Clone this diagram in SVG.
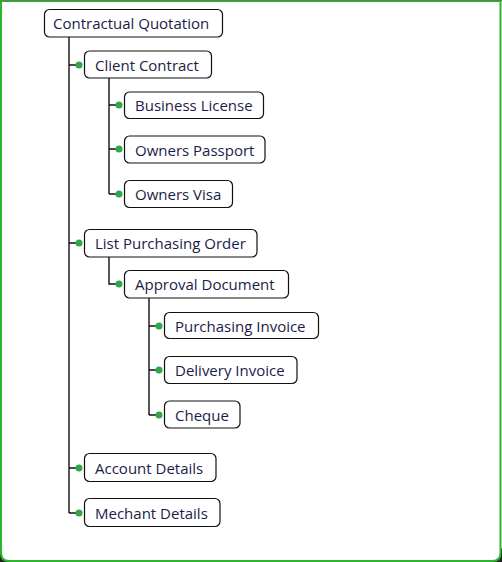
<svg xmlns="http://www.w3.org/2000/svg" width="502" height="562" viewBox="0 0 502 562">
<style>
.box{fill:#fff;stroke:#111;stroke-width:1.2}
.t{font-family:"Open Sans","Noto Sans",sans-serif;font-size:15px;fill:#1c1c48}
.ln{fill:none;stroke:#111;stroke-width:1.4}
.dot{fill:#2ea84a}
</style>
<path d="M0,548 V562 H14 Z M502,548 V562 H488 Z" fill="#222"/>
<path d="M1,1 H500.5 V553 Q500.5,561 492.5,561 H9 Q1,561 1,553 Z" fill="#fff" stroke="#2db52d" stroke-width="2"/>
<line x1="0" y1="0.5" x2="502" y2="0.5" stroke="#4c8c4c" stroke-width="1.5"/>
<g id="connectors">
<path class="ln" d="M69,37 V513 M69,65 H78 M69,243 H78 M69,468 H78 M69,513 H78"/>
<path class="ln" d="M109,78 V194 M109,105 H118 M109,149 H118 M109,194 H118"/>
<path class="ln" d="M109,257 V284 H118"/>
<path class="ln" d="M149,298 V415 M149,326 H158 M149,370 H158 M149,415 H158"/>
<circle class="dot" cx="79" cy="65" r="3.5"/>
<circle class="dot" cx="79" cy="243" r="3.5"/>
<circle class="dot" cx="79" cy="468" r="3.5"/>
<circle class="dot" cx="79" cy="513" r="3.5"/>
<circle class="dot" cx="119" cy="105" r="3.5"/>
<circle class="dot" cx="119" cy="149" r="3.5"/>
<circle class="dot" cx="119" cy="194" r="3.5"/>
<circle class="dot" cx="119" cy="284" r="3.5"/>
<circle class="dot" cx="159" cy="326" r="3.5"/>
<circle class="dot" cx="159" cy="370" r="3.5"/>
<circle class="dot" cx="159" cy="415" r="3.5"/>
</g>
<g id="n-root"><rect class="box" x="44.5" y="9.5" width="178" height="27.5" rx="5"/><text class="t" x="53" y="29">Contractual Quotation</text></g>
<g id="n-client"><rect class="box" x="84.5" y="51" width="127" height="27" rx="5"/><text class="t" x="95" y="70.5">Client Contract</text></g>
<g id="n-business"><rect class="box" x="124.5" y="92" width="139" height="26.5" rx="5"/><text class="t" x="135" y="111">Business License</text></g>
<g id="n-passport"><rect class="box" x="124.5" y="136" width="140.5" height="27" rx="5"/><text class="t" x="135" y="155.5">Owners Passport</text></g>
<g id="n-visa"><rect class="box" x="124.5" y="180.5" width="108" height="27" rx="5"/><text class="t" x="135" y="200">Owners Visa</text></g>
<g id="n-lpo"><rect class="box" x="84.5" y="229.5" width="172.5" height="27.5" rx="5"/><text class="t" x="95" y="249">List Purchasing Order</text></g>
<g id="n-approval"><rect class="box" x="124.5" y="270.5" width="164" height="27.5" rx="5"/><text class="t" x="135" y="290">Approval Document</text></g>
<g id="n-pinv"><rect class="box" x="164.5" y="312.5" width="154" height="26" rx="5"/><text class="t" x="175" y="332">Purchasing Invoice</text></g>
<g id="n-dinv"><rect class="box" x="164.5" y="356.5" width="132.5" height="27" rx="5"/><text class="t" x="175" y="376">Delivery Invoice</text></g>
<g id="n-cheque"><rect class="box" x="164.5" y="401" width="75.5" height="27" rx="5"/><text class="t" x="175" y="420.5">Cheque</text></g>
<g id="n-account"><rect class="box" x="84.5" y="453.5" width="131.5" height="28" rx="5"/><text class="t" x="95" y="473.5">Account Details</text></g>
<g id="n-mechant"><rect class="box" x="84.5" y="498.5" width="135.5" height="28" rx="5"/><text class="t" x="95" y="518.5">Mechant Details</text></g>
</svg>
